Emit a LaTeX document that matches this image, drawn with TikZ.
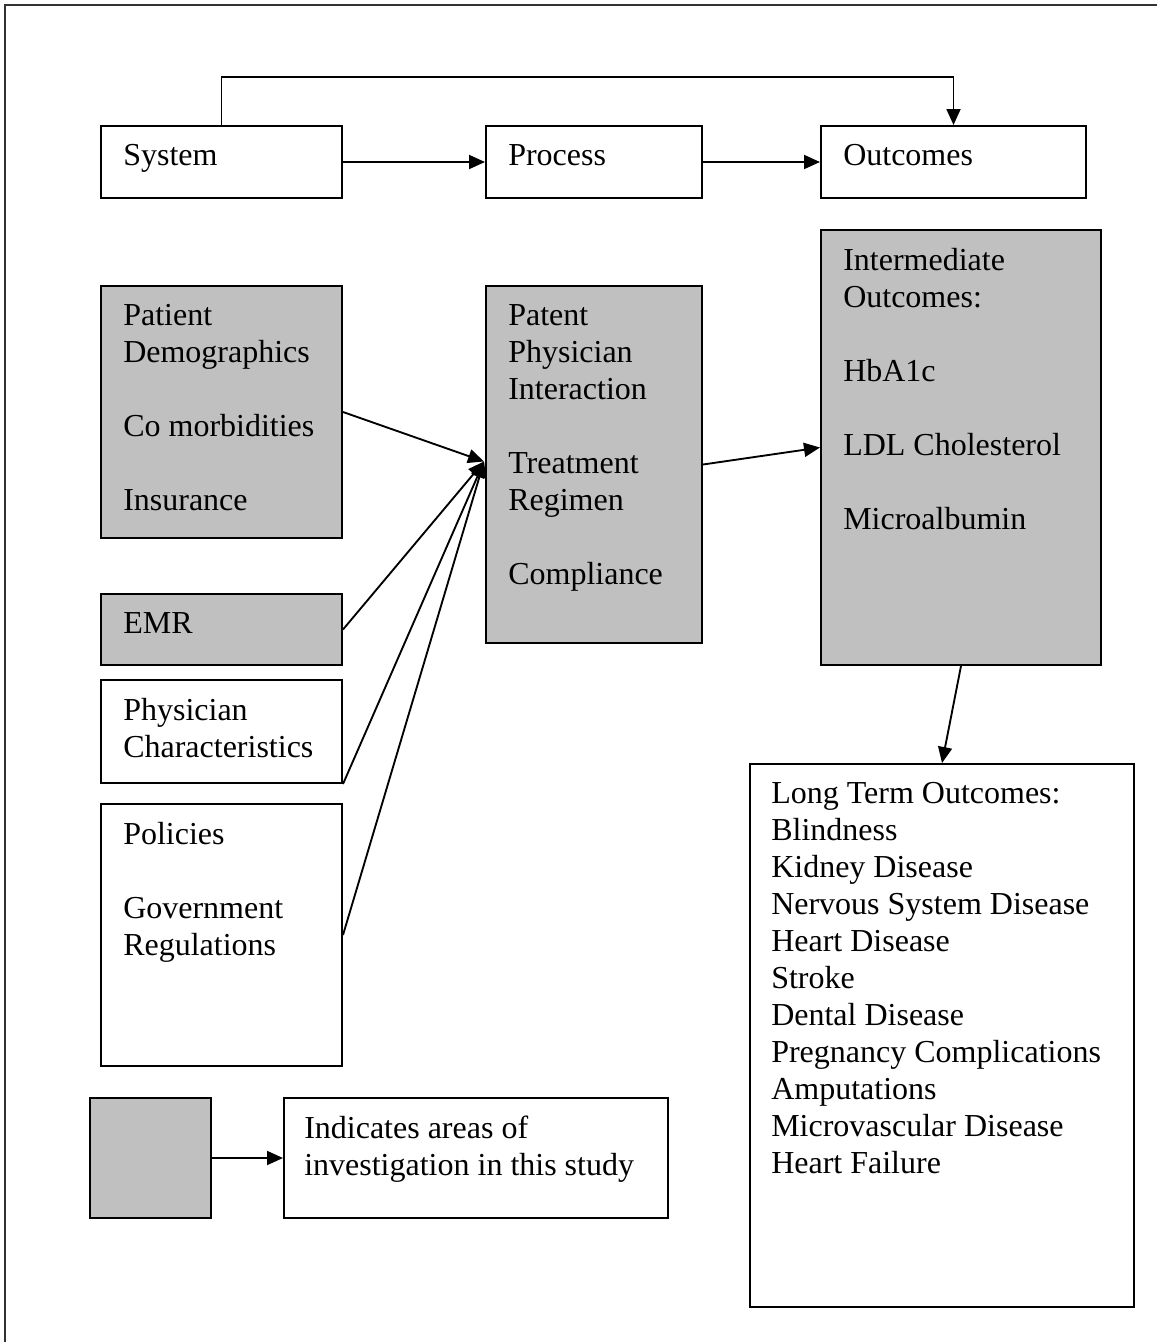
\documentclass[tikz,border=0pt]{standalone}
\usepackage{fontspec}
\setmainfont{Liberation Serif}
\usetikzlibrary{arrows.meta,calc}
\definecolor{boxgray}{RGB}{192,192,192}
\definecolor{framegray}{RGB}{50,50,50}
\begin{document}
\begin{tikzpicture}[x=0.75pt,y=-0.75pt,
  box/.style={draw=black, line width=1.5pt, inner sep=0pt, rectangle},
  dim/.style n args={2}{minimum width=#1*0.75pt, minimum height=#2*0.75pt},
  shaded/.style={box, fill=boxgray},
  lbl/.style={anchor=north west, inner sep=0pt, align=left, font=\fontsize{24pt}{27.75pt}\selectfont},
  arr/.style={line width=1.4pt, -{Triangle[length=12pt,width=10.5pt]}}]
\useasboundingbox (0,0) rectangle (1157,1342);
% frame
\draw[framegray, line width=1.2pt] (5,1342) -- (5,5) -- (1157,5);
% top row
\node[box, dim={241}{72}] (sys) at (221.5,162) {};
\node[box, dim={216}{72}] (proc) at (594,162) {};
\node[box, dim={265}{72}] (out) at (953.5,162) {};
\node[lbl] (tsys) at (123,144) {System};
\node[lbl] (tproc) at (508,144) {Process};
\node[lbl] (tout) at (843,144) {Outcomes};
% left column
\node[shaded, dim={241}{252}] (pd) at (221.5,412) {};
\node[shaded, dim={241}{71}] (emr) at (221.5,629.5) {};
\node[box, dim={241}{103}] (pc) at (221.5,731.5) {};
\node[box, dim={241}{262}] (pol) at (221.5,935) {};
\node[lbl] (tpd) at (123,304) {Patient\\Demographics\\[27.75pt]Co morbidities\\[27.75pt]Insurance};
\node[lbl] (temr) at (123,612) {EMR};
\node[lbl] (tpc) at (123,698) {Physician\\Characteristics};
\node[lbl] (tpol) at (123,822) {Policies\\[27.75pt]Government\\Regulations};
% middle
\node[shaded, dim={216}{357}] (ppi) at (594,464.5) {};
\node[lbl] (tppi) at (508,304) {Patent\\Physician\\Interaction\\[27.75pt]Treatment\\Regimen\\[27.75pt]Compliance};
% right
\node[shaded, dim={280}{435}] (io) at (961,447.5) {};
\node[lbl] (tio) at (843,248) {Intermediate\\Outcomes:\\[27.75pt]HbA1c\\[27.75pt]LDL Cholesterol\\[27.75pt]Microalbumin};
\node[box, dim={384}{543}] (lt) at (942,1035.5) {};
\node[lbl] (tlt) at (771,782) {Long Term Outcomes:\\Blindness\\Kidney Disease\\Nervous System Disease\\Heart Disease\\Stroke\\Dental Disease\\Pregnancy Complications\\Amputations\\Microvascular Disease\\Heart Failure};
% legend
\node[shaded, dim={121}{120}] (leg) at (150.5,1158) {};
\node[box, dim={384}{120}] (ind) at (476,1158) {};
\node[lbl] (tind) at (304,1116) {Indicates areas of\\investigation in this study};
% connectors
\coordinate (conv) at ($(ppi.west)+(-1,-3)$);
\draw[arr] (sys.north) -- ++(0,-48) -| (out.north);
\draw[arr] (sys.east) -- (proc.west);
\draw[arr] (proc.east) -- (out.west);
\draw[arr] (pd.east) -- (conv);
\draw[arr] (emr.east) -- (conv);
\draw[arr] (pc.south east) -- (conv);
\draw[arr] (pol.east) -- (conv);
\draw[arr] (ppi.east) -- (io.west);
\draw[arr] (io.south) -- (lt.north);
\draw[arr] (leg.east) -- (ind.west);
\end{tikzpicture}
\end{document}
